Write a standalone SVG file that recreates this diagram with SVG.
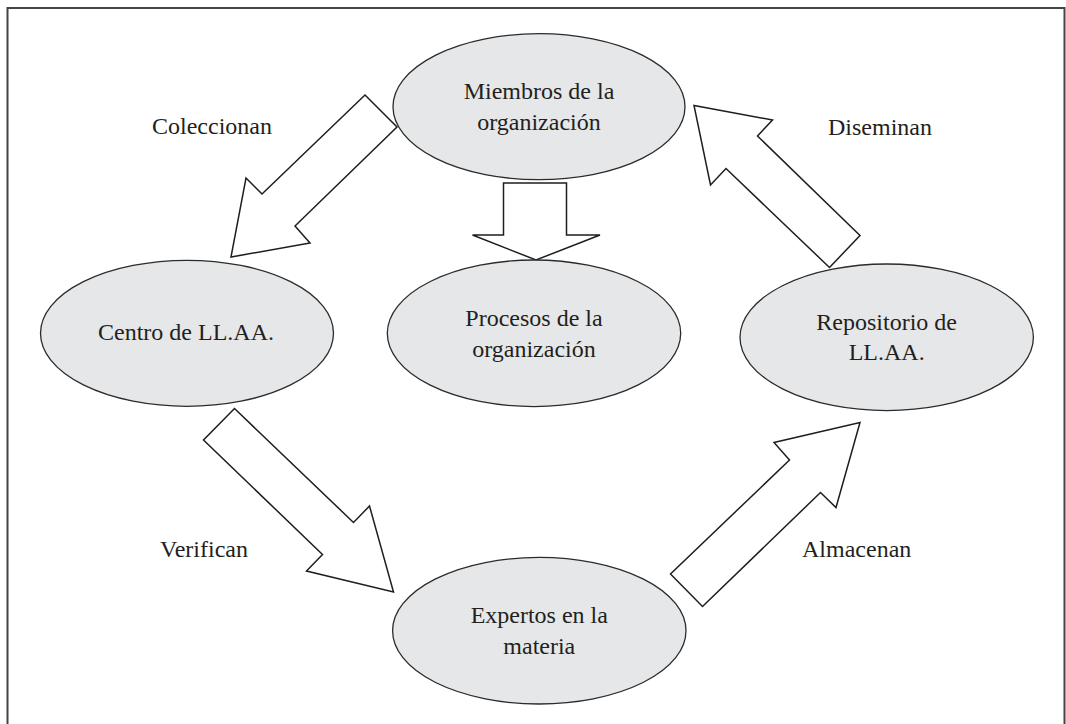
<svg xmlns="http://www.w3.org/2000/svg" width="1066" height="724" viewBox="0 0 1066 724">
<style>
.node ellipse{fill:#e6e7e8;stroke:#2b2b2b;stroke-width:1.3}
.arrow{fill:#ffffff;stroke:#1e1e1e;stroke-width:1.5;stroke-linejoin:miter}
text{font-family:"Liberation Serif","Times New Roman",serif;font-size:24px;fill:#231f20}
.c{text-anchor:middle}
</style>
<rect width="1066" height="724" fill="#ffffff"/>
<path d="M7.5,724 V8 H1064.5 V724" fill="none" stroke="#444" stroke-width="2"/>
<g id="connectors">
<polygon class="arrow" points="365,95 397,127 295,226 310,243 231,257 246,178 262,194"/>
<polygon class="arrow" points="503.5,183 566.5,183 566.5,235 600,235 536,260 472.5,235 503.5,235"/>
<polygon class="arrow" points="829.5,267.5 860,235.5 757.5,136 772.5,120 694,105.5 710.5,185 726,168.5"/>
<polygon class="arrow" points="234.5,408.5 203.5,440 322.5,554.5 306.5,571 393.5,592 369.5,506 353.5,522.5"/>
<polygon class="arrow" points="670.5,574 702.5,606.5 820.5,492.5 836,507.5 860,422.5 774,442.5 789.5,460"/>
<text x="152" y="134">Coleccionan</text>
<text x="828" y="135">Diseminan</text>
<text x="160" y="557">Verifican</text>
<text x="802" y="557">Almacenan</text>
</g>
<g id="miembros" class="node">
<ellipse cx="539" cy="106.7" rx="146" ry="73"/>
<text class="c" x="539" y="99">Miembros de la</text>
<text class="c" x="539" y="130">organización</text>
</g>
<g id="centro" class="node">
<ellipse cx="187" cy="333.3" rx="146.5" ry="73"/>
<text class="c" x="186" y="340">Centro de LL.AA.</text>
</g>
<g id="procesos" class="node">
<ellipse cx="534" cy="333.3" rx="146.7" ry="73.3"/>
<text class="c" x="534" y="326">Procesos de la</text>
<text class="c" x="534" y="357">organización</text>
</g>
<g id="repositorio" class="node">
<ellipse cx="886.7" cy="337.3" rx="146.7" ry="73.3"/>
<text class="c" x="886.7" y="329.5">Repositorio de</text>
<text class="c" x="886.7" y="360">LL.AA.</text>
</g>
<g id="expertos" class="node">
<ellipse cx="539.3" cy="630.7" rx="146.7" ry="73.3"/>
<text class="c" x="539.3" y="623">Expertos en la</text>
<text class="c" x="539.3" y="654">materia</text>
</g>
</svg>
